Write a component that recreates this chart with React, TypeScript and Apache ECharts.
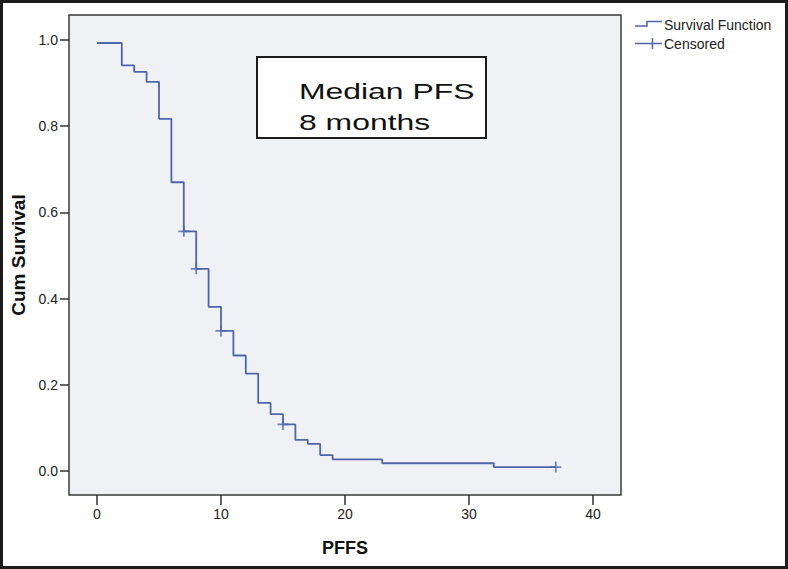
import React, { useEffect, useRef } from "react";
import * as echarts from "echarts";

// Kaplan-Meier step data
const times = [0, 2, 3, 4, 5, 6, 7, 8, 9, 10, 11, 12, 13, 14, 15, 16, 17, 18, 19, 23, 32, 37];
const survival = [0.993, 0.941, 0.926, 0.903, 0.817, 0.670, 0.556, 0.469, 0.381, 0.325, 0.268, 0.226, 0.158, 0.132, 0.108, 0.072, 0.063, 0.037, 0.027, 0.018, 0.009, 0.009];
const censorTimes = [7, 8, 10, 15, 37];
const censorSurvival = [0.556, 0.469, 0.325, 0.108, 0.009];
const xTicks = [0, 10, 20, 30, 40];
const yTicks = [0, 0.2, 0.4, 0.6, 0.8, 1.0];
const legendLabels = ["Survival Function", "Censored"];
const annotationLines = ["Median PFS", "8 months"];

const FONT = "'Liberation Sans', Arial, sans-serif";
const BLUE = "#4d66ab";

export default function App() {
  const ref = useRef<HTMLDivElement>(null);
  useEffect(() => {
    document.body.style.margin = "0";
    if (!ref.current) return;
    const chart = echarts.init(ref.current, null, { renderer: "svg" });
    const plus = "path://M4.2,0H5.8V4.2H10V5.8H5.8V10H4.2V5.8H0V4.2H4.2Z";
    chart.setOption({
      animation: false,
      backgroundColor: "#ffffff",
      grid: {
        left: 69,
        top: 15,
        width: 552,
        height: 480,
        show: true,
        backgroundColor: "#f0f1f4",
        borderColor: "#3a3a3a",
        borderWidth: 1.5,
      },
      xAxis: {
        type: "value",
        min: -2.258,
        max: 42.26,
        name: "PFFS",
        nameLocation: "middle",
        nameGap: 44,
        nameTextStyle: { fontFamily: FONT, fontSize: 18, fontWeight: "bold", color: "#111" },
        axisLine: { show: false, onZero: false },
        splitLine: { show: false },
        axisTick: { show: true, length: 10, customValues: xTicks, lineStyle: { color: "#333", width: 1.5 } },
        axisLabel: { customValues: xTicks, fontFamily: FONT, fontSize: 14, color: "#222", margin: 12 },
      },
      yAxis: {
        type: "value",
        min: -0.0557,
        max: 1.058,
        name: "Cum Survival",
        nameLocation: "middle",
        nameGap: 35,
        nameTextStyle: { fontFamily: FONT, fontSize: 19, fontWeight: "bold", color: "#111" },
        axisLine: { show: false, onZero: false },
        splitLine: { show: false },
        axisTick: { show: true, length: 9, customValues: yTicks, lineStyle: { color: "#333", width: 1.5 } },
        axisLabel: {
          customValues: yTicks,
          fontFamily: FONT,
          fontSize: 14,
          color: "#222",
          margin: 11,
          formatter: (v: number) => v.toFixed(1),
        },
      },
      series: [
        {
          name: legendLabels[0],
          type: "line",
          step: "end",
          data: times.map((t, i) => [t, survival[i]]),
          showSymbol: false,
          symbol: "none",
          lineStyle: { color: BLUE, width: 1.8 },
        },
        {
          name: legendLabels[1],
          type: "scatter",
          data: censorTimes.map((t, i) => [t, censorSurvival[i]]),
          symbol: plus,
          symbolSize: 11,
          itemStyle: { color: BLUE },
        },
      ],
      graphic: [
        {
          type: "rect",
          shape: { x: 1.5, y: 1.5, width: 785, height: 566 },
          style: { fill: "none", stroke: "#1c1c1c", lineWidth: 3 },
          z: 100,
        },
        {
          type: "rect",
          shape: { x: 257, y: 57, width: 229, height: 81 },
          style: { fill: "#ffffff", stroke: "#1c1c1c", lineWidth: 2 },
          z: 50,
        },
        {
          type: "text",
          x: 299,
          y: 91,
          scaleX: 1.45,
          style: { text: annotationLines[0], font: `22px ${FONT}`, fill: "#111", verticalAlign: "middle" },
          z: 51,
        },
        {
          type: "text",
          x: 299,
          y: 122,
          scaleX: 1.45,
          style: { text: annotationLines[1], font: `22px ${FONT}`, fill: "#111", verticalAlign: "middle" },
          z: 51,
        },
        {
          type: "polyline",
          shape: { points: [[635, 26], [647, 26], [647, 21.5], [662, 21.5]] },
          style: { stroke: BLUE, lineWidth: 1.5, fill: "none" },
        },
        {
          type: "text",
          x: 664,
          y: 25,
          style: { text: legendLabels[0], font: `14px ${FONT}`, fill: "#222", verticalAlign: "middle" },
        },
        {
          type: "line",
          shape: { x1: 635, y1: 43.5, x2: 662, y2: 43.5 },
          style: { stroke: BLUE, lineWidth: 1.5 },
        },
        {
          type: "line",
          shape: { x1: 652.5, y1: 38, x2: 652.5, y2: 49 },
          style: { stroke: BLUE, lineWidth: 1.5 },
        },
        {
          type: "text",
          x: 664,
          y: 44,
          style: { text: legendLabels[1], font: `14px ${FONT}`, fill: "#222", verticalAlign: "middle" },
        },
      ],
    });
    return () => chart.dispose();
  }, []);
  return <div ref={ref} style={{ width: 788, height: 569 }} />;
}
